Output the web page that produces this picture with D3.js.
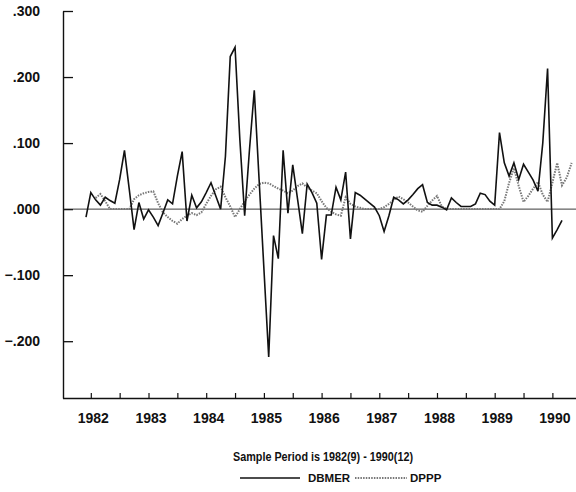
<!DOCTYPE html>
<html>
<head>
<meta charset="utf-8">
<script src="https://cdn.jsdelivr.net/npm/d3@7"></script>
<style>
  body { margin: 0; background: #fff; }
  svg { display: block; }
  text { font-family: "Liberation Sans", Arial, sans-serif; fill: #111; }
</style>
</head>
<body>
<svg id="chart" width="576" height="492"></svg>
<script>
// monthly, month 0 = 1982(9)
const dbmer = [
  -0.012, 0.025, 0.014, 0.006, 0.018, 0.013, 0.009, 0.045, 0.089, 0.030,
  -0.031, 0.010, -0.015, -0.001, -0.012, -0.025, -0.006, 0.014, 0.008, 0.050,
  0.087, -0.018, 0.021, 0.002, 0.011, 0.025, 0.040, 0.020, 0.000, 0.080,
  0.231, 0.245, 0.105, -0.010, 0.090, 0.180, 0.045, -0.090, -0.224, -0.040,
  -0.075, 0.089, -0.006, 0.067, 0.015, -0.037, 0.038, 0.025, 0.009, -0.076,
  -0.009, -0.009, 0.033, 0.014, 0.056, -0.045, 0.025, 0.021, 0.015, 0.009,
  0.003, -0.010, -0.034, -0.010, 0.018, 0.014, 0.008, 0.014, 0.022, 0.031,
  0.037, 0.010, 0.006, 0.006, 0.003, -0.001, 0.017, 0.010, 0.004, 0.004,
  0.004, 0.008, 0.024, 0.022, 0.012, 0.006, 0.116, 0.070, 0.050, 0.070,
  0.045, 0.068, 0.056, 0.044, 0.027, 0.100, 0.213, -0.044, -0.031, -0.017
];
// DPPP is drawn from month 2 onwards
const dpppStart = 2;
const dppp = [
  0.017, 0.023, 0.012, 0.000, 0.000, 0.000, 0.000, 0.000, 0.015, 0.021,
  0.024, 0.026, 0.027, 0.009, -0.005, -0.012, -0.018, -0.022, -0.015, -0.010,
  -0.006, -0.009, -0.005, 0.008, 0.020, 0.030, 0.034, 0.018, 0.004, -0.012,
  0.000, 0.012, 0.022, 0.031, 0.038, 0.040, 0.039, 0.035, 0.031, 0.028,
  0.024, 0.028, 0.035, 0.039, 0.033, 0.028, 0.024, 0.012, 0.002, -0.004,
  -0.008, -0.010, 0.018, 0.008, 0.004, 0.002, 0.000, 0.000, 0.000, 0.000,
  0.003, 0.008, 0.014, 0.019, 0.015, 0.010, 0.004, -0.002, -0.004, 0.005,
  0.013, 0.020, 0.004, 0.000, 0.000, 0.000, 0.000, 0.000, 0.000, 0.000,
  0.000, 0.000, 0.000, 0.000, 0.000, 0.012, 0.040, 0.062, 0.035, 0.011,
  0.020, 0.031, 0.041, 0.022, 0.011, 0.040, 0.070, 0.036, 0.048, 0.070
];
const years = [1982, 1983, 1984, 1985, 1986, 1987, 1988, 1989, 1990];
const yTicks = [-0.2, -0.1, 0, 0.1, 0.2, 0.3];
const seriesNames = ["DBMER", "DPPP"];

const svg = d3.select("#chart");
const plotL = 63, plotR = 576, plotT = 11, plotB = 398;
const pppColor = "#777";

const x = d3.scaleLinear().domain([0, 99]).range([86, 562]);
const y = d3.scaleLinear().domain([-0.286, 0.3]).range([plotB, plotT]);

// y axis
const yAxis = svg.append("g")
    .attr("transform", `translate(${plotL},0)`)
    .call(d3.axisLeft(y)
        .tickValues(yTicks)
        .tickSize(-10)
        .tickSizeOuter(0)
        .tickPadding(23)
        .tickFormat(v => d3.format(".3f")(v).replace("0.", ".")));
yAxis.select(".domain").attr("stroke", "#111").attr("stroke-width", 1.4);
yAxis.selectAll(".tick line").attr("stroke", "#111").attr("stroke-width", 1.3);
yAxis.selectAll("text").attr("font-size", 14).attr("font-weight", "bold");

// x axis
const xAxis = svg.append("g")
    .attr("transform", `translate(0,${plotB})`)
    .call(d3.axisBottom(x)
        .tickValues(d3.range(1, 98, 6))
        .tickSize(-5)
        .tickSizeOuter(0)
        .tickPadding(15)
        .tickFormat(m => (m - 1) % 12 === 0 ? years[(m - 1) / 12] : ""));
xAxis.select(".domain").attr("d", `M${plotL},0.5H${plotR}`)
    .attr("stroke", "#111").attr("stroke-width", 1.4);
xAxis.selectAll(".tick line").attr("stroke", "#111").attr("stroke-width", 1.2);
xAxis.selectAll("text").attr("font-size", 14).attr("font-weight", "bold")
    .attr("dx", 2);

// zero line
svg.append("line")
    .attr("x1", plotL).attr("x2", plotR)
    .attr("y1", y(0)).attr("y2", y(0))
    .attr("stroke", "#222").attr("stroke-width", 0.9);

const line = d3.line()
    .x(d => x(d[0]))
    .y(d => y(d[1]));

svg.append("path")
    .datum(dppp.map((v, i) => [i + dpppStart, v]))
    .attr("fill", "none")
    .attr("stroke", pppColor)
    .attr("stroke-width", 2)
    .attr("stroke-dasharray", "1.5,1.2")
    .attr("d", line);

svg.append("path")
    .datum(dbmer.map((v, i) => [i, v]))
    .attr("fill", "none")
    .attr("stroke", "#111")
    .attr("stroke-width", 1.6)
    .attr("stroke-linejoin", "miter")
    .attr("d", line);

// footer
svg.append("text")
    .attr("x", 233).attr("y", 461)
    .attr("font-size", 12.5).attr("font-weight", "bold")
    .attr("textLength", 180).attr("lengthAdjust", "spacingAndGlyphs")
    .text("Sample Period is 1982(9) - 1990(12)");

const legend = svg.append("g").attr("transform", "translate(0,478)");
legend.append("line").attr("x1", 240).attr("x2", 300)
    .attr("stroke", "#111").attr("stroke-width", 1.3);
legend.append("line").attr("x1", 355).attr("x2", 407)
    .attr("stroke", pppColor).attr("stroke-width", 2).attr("stroke-dasharray", "1.5,1.2");
legend.selectAll("text.lab")
    .data(seriesNames)
    .enter().append("text")
    .attr("class", "lab")
    .attr("x", (d, i) => i === 0 ? 308 : 410)
    .attr("y", 4)
    .attr("font-size", 11.5).attr("font-weight", "bold")
    .text(d => d);
</script>
</body>
</html>
